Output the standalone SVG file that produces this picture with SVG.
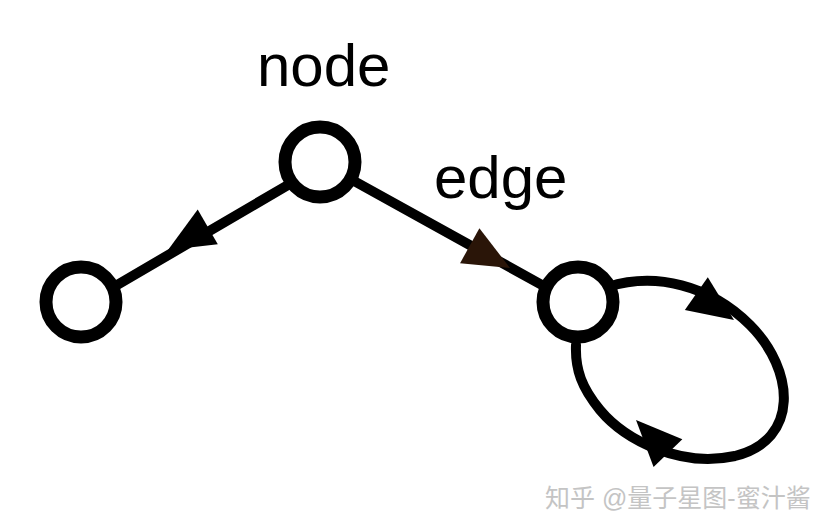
<svg xmlns="http://www.w3.org/2000/svg" width="824" height="532" viewBox="0 0 824 532">
<style>
.node{fill:#fff;stroke:#000;stroke-width:13}
.edge{fill:none;stroke:#000;stroke-width:10;stroke-linecap:round}
.lbl{font-family:"Liberation Sans",Arial,sans-serif;font-size:60px;fill:#000}
.wm{font-family:"Liberation Sans","Noto Sans CJK SC",sans-serif;font-size:25px;fill:#c4c4c4}
</style>
<defs>
<polygon id="ah" points="0,0 -46,-20 -46,20"/>
</defs>
<rect width="824" height="532" fill="#fff"/>
<g id="connectors">
<line class="edge" x1="300" y1="178" x2="100" y2="295"/>
<line class="edge" x1="345" y1="176" x2="560" y2="295"/>
<path class="edge" d="M608,287 C655,272 710,285 750,325 C795,370 800,440 735,456 C680,468 625,440 600,410 C582,388 575,370 576,345"/>
<use href="#ah" transform="translate(168,250) rotate(149.8)"/>
<use href="#ah" fill="#2a1508" transform="translate(510,268) rotate(28.9)"/>
<use href="#ah" transform="translate(734,320) rotate(35)"/>
<use href="#ah" transform="translate(636,420) rotate(226)"/>
</g>
<g id="node-top"><circle class="node" cx="320" cy="162" r="35"/></g>
<g id="node-left"><circle class="node" cx="81" cy="302" r="35"/></g>
<g id="node-right"><circle class="node" cx="578" cy="302" r="35"/></g>
<g id="labels">
<text class="lbl" x="257" y="86">node</text>
<text class="lbl" x="434" y="198">edge</text>
</g>
<text class="wm" x="545" y="507">知乎 @量子星图-蜜汁酱</text>
</svg>
